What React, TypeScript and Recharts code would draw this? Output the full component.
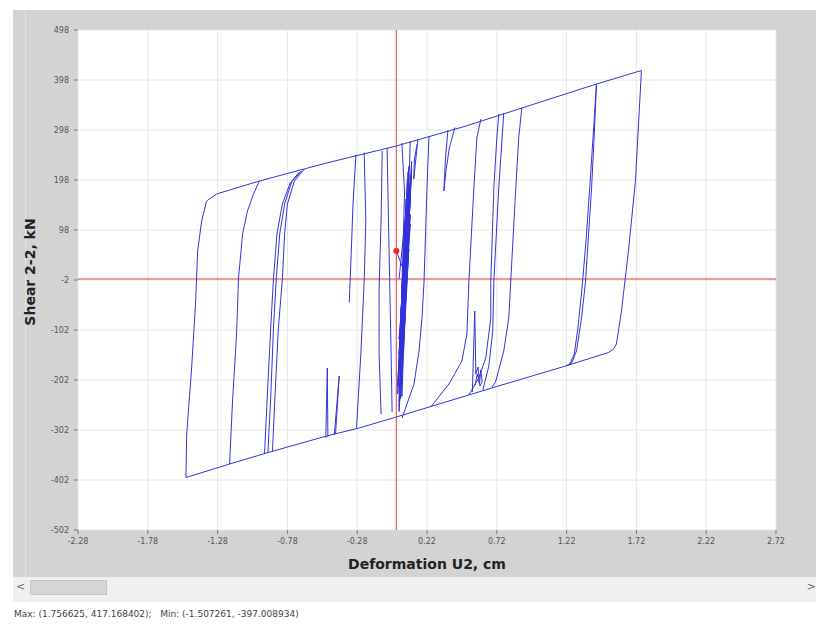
import React from 'react';
import { LineChart, Line, XAxis, YAxis, CartesianGrid, ReferenceLine, ReferenceDot } from 'recharts';

// each point: [deformation U2 (cm), shear 2-2 (kN)]
type Pt = [number, number];

const deformationTicks = [-2.28, -1.78, -1.28, -0.78, -0.28, 0.22, 0.72, 1.22, 1.72, 2.22, 2.72];
const shearTicks = [-502, -402, -302, -202, -102, -2, 98, 198, 298, 398, 498];

const outerLoop: Pt[] = [
  [-1.507, -397], [-1.501, -310], [-1.466, -178], [-1.437, -44], [-1.423, 56], [-1.394, 116],
  [-1.359, 156], [-1.287, 170], [-1.194, 178], [-0.98, 196], [-0.5, 232], [0, 266], [0.5, 306],
  [0.9, 342], [1.434, 390], [1.756, 417], [1.713, 196], [1.663, 56], [1.613, -64], [1.577, -130],
  [1.555, -141], [1.52, -147], [1.213, -174], [0.684, -218], [0, -276], [-0.266, -298],
  [-0.5, -314], [-0.93, -348], [-1.194, -370], [-1.507, -397],
];

const leftBranch: Pt[] = [
  [-1.194, -370], [-1.173, -244], [-1.144, -110], [-1.13, 2], [-1.101, 90], [-1.066, 136],
  [-1.02, 172], [-0.98, 196],
];

const midLeftA: Pt[] = [
  [-0.944, -350], [-0.925, -240], [-0.9, -100], [-0.88, 0], [-0.855, 90], [-0.816, 150],
  [-0.76, 192], [-0.694, 214],
];
const midLeftB: Pt[] = [
  [-0.887, -345], [-0.87, -240], [-0.845, -100], [-0.816, 0], [-0.8, 90], [-0.78, 150],
  [-0.73, 196], [-0.659, 220],
];
const midLeftC: Pt[] = [
  [-0.92, -348], [-0.9, -240], [-0.88, -100], [-0.86, 0], [-0.835, 90], [-0.8, 150],
  [-0.75, 194], [-0.68, 216],
];

const spikeLow1: Pt[] = [[-0.505, -318], [-0.494, -178], [-0.49, -316]];
const spikeLow2: Pt[] = [[-0.444, -312], [-0.409, -194], [-0.435, -310]];

const nearZeroD: Pt[] = [[-0.289, 249], [-0.31, 150], [-0.323, 50], [-0.337, -47]];
const nearZeroE: Pt[] = [
  [-0.23, 253], [-0.218, 116], [-0.23, -4], [-0.254, -150], [-0.285, -298],
];
const nearZeroF1: Pt[] = [
  [-0.101, 256], [-0.109, 116], [-0.123, -18], [-0.123, -150], [-0.109, -270],
];
const nearZeroF2: Pt[] = [
  [-0.066, 262], [-0.051, 50], [-0.037, -150], [-0.03, -266],
];

const cluster: Pt[] = [
  [0.02, 0], [0.07, 140], [0.03, -90], [0.08, 170], [0.02, -150], [0.09, 210], [0.04, -60],
  [0.1, 160], [0.02, -190], [0.07, 100], [0.01, -230], [0.09, 190], [0.05, -130], [0.11, 220],
  [0.03, -210], [0.1, 130], [0.02, -255], [0.08, 70], [0.04, -170], [0.11, 235], [0.06, -90],
  [0.1, 180], [0.03, -240], [0.07, 40], [0.02, -120], [0.09, 150], [0.05, -40], [0.1, 110],
  [0.03, -200], [0.08, 200], [0.03, -100], [0.06, 90], [0.01, -215], [0.07, 140], [0.04, -20],
  [0.09, 225], [0.05, -150], [0.09, 60], [0.02, -265], [0.05, 20], [0.0, 56],
];
const clusterLate: Pt[] = [
  [0.06, 180], [0.035, -70], [0.08, 120], [0.025, -175], [0.07, 160], [0.04, -235],
  [0.1, 205], [0.06, -30], [0.09, 185], [0.035, -155], [0.075, 75], [0.03, -205],
  [0.06, 30], [0.085, 215], [0.04, -110], [0.08, 165], [0.02, -245], [0.06, 100],
];

const topH1: Pt[] = [[0.04, 272], [0.05, 220], [0.06, 170]];
const topH2: Pt[] = [[0.1, 276], [0.095, 230], [0.085, 180]];
const topH3: Pt[] = [[0.155, 280], [0.14, 240], [0.125, 200], [0.13, 240], [0.15, 270]];

const branchG: Pt[] = [
  [0.041, -278], [0.127, -210], [0.163, -144], [0.184, -78], [0.199, -4], [0.22, 182], [0.234, 286],
];
const spikeTop: Pt[] = [[0.42, 303], [0.38, 262], [0.355, 215], [0.341, 176], [0.352, 240], [0.37, 298]];

const branchL1: Pt[] = [
  [0.606, 320], [0.577, 282], [0.556, 182], [0.52, -4], [0.506, -110], [0.47, -164],
  [0.377, -210], [0.25, -255],
];
const branchL2: Pt[] = [
  [0.734, 330], [0.72, 282], [0.699, 182], [0.677, -4], [0.677, -78], [0.641, -158],
  [0.591, -198], [0.52, -232],
];
const branchL2b: Pt[] = [
  [0.77, 332], [0.734, 182], [0.699, -4], [0.691, -104], [0.663, -174], [0.62, -222],
];
const branchL3: Pt[] = [
  [0.899, 342], [0.877, 282], [0.856, 182], [0.82, -4], [0.806, -78], [0.77, -144],
  [0.713, -204], [0.684, -218],
];
const squiggle: Pt[] = [
  [0.545, -226], [0.562, -64], [0.57, -190], [0.585, -176], [0.596, -210], [0.605, -182],
  [0.615, -205], [0.6, -214], [0.58, -190], [0.565, -212],
];

const branchK1: Pt[] = [
  [1.434, 390], [1.42, 300], [1.399, 182], [1.375, 80], [1.356, -4], [1.327, -78],
  [1.291, -144], [1.256, -168], [1.213, -174],
];
const branchK2: Pt[] = [
  [1.24, -172], [1.275, -150], [1.3, -100], [1.33, -20], [1.36, 80], [1.39, 200],
  [1.42, 330], [1.434, 390],
];

const curves: Pt[][] = [
  outerLoop, leftBranch, midLeftA, midLeftB, midLeftC, spikeLow1, spikeLow2,
  nearZeroD, nearZeroE, nearZeroF1, nearZeroF2, cluster, clusterLate, topH1, topH2, topH3,
  branchG, spikeTop, branchL1, branchL2, branchL2b, branchL3, squiggle, branchK1, branchK2,
];

const startPoint: Pt = [0, 56];

const toRows = (pts: Pt[]) => pts.map(([u, v]) => ({ u, v }));

const tickStyle = { fontSize: 8, fill: '#555', fontFamily: 'DejaVu Sans' };

export default function App() {
  return (
    <div
      style={{
        position: 'absolute', left: 0, top: 0, width: 816, height: 624,
        background: '#fff', overflow: 'hidden', fontFamily: 'DejaVu Sans, sans-serif',
      }}
    >
      <div style={{ position: 'absolute', left: 13, top: 10, width: 803, height: 567, background: '#d3d3d3' }}>
        <div style={{ position: 'absolute', left: 12, top: 0, width: 1, height: 567, background: '#e2e2e2' }} />
        <LineChart width={803} height={567} margin={{ top: 20, right: 40, bottom: 17, left: 15 }}>
          <CartesianGrid stroke="#e6e6e6" fill="#ffffff" />
          <XAxis
            type="number"
            dataKey="u"
            domain={[-2.28, 2.72]}
            ticks={deformationTicks}
            allowDataOverflow
            tickFormatter={(t: number) => t.toFixed(2)}
            axisLine={false}
            tickLine={{ stroke: '#777' }}
            tickSize={4}
            tickMargin={4}
            tick={tickStyle}
            height={30}
            interval={0}
          />
          <YAxis
            type="number"
            domain={[-502, 498]}
            ticks={shearTicks}
            allowDataOverflow
            axisLine={false}
            tickLine={{ stroke: '#777' }}
            tickSize={4}
            tickMargin={5}
            tick={tickStyle}
            width={50}
            interval={0}
          />
          <ReferenceLine x={0} stroke="#e23a3a" strokeWidth={1} />
          <ReferenceLine y={0} stroke="#e23a3a" strokeWidth={1} />
          {curves.map((pts, i) => (
            <Line
              key={i}
              data={toRows(pts)}
              dataKey="v"
              type="linear"
              stroke="#3333dc"
              strokeWidth={1}
              dot={false}
              activeDot={false}
              isAnimationActive={false}
            />
          ))}
          <ReferenceDot x={startPoint[0]} y={startPoint[1]} r={3} fill="#ff2020" stroke="none" />
        </LineChart>
        <div
          style={{
            position: 'absolute', left: 414, top: 546, transform: 'translateX(-50%)',
            fontSize: 14, fontWeight: 'bold', color: '#222', whiteSpace: 'nowrap',
          }}
        >
          Deformation U2, cm
        </div>
        <div
          style={{
            position: 'absolute', left: 17, top: 262, transform: 'translate(-50%, -50%) rotate(-90deg)',
            fontSize: 14, fontWeight: 'bold', color: '#222', whiteSpace: 'nowrap',
          }}
        >
          Shear 2-2, kN
        </div>
      </div>
      <div style={{ position: 'absolute', left: 13, top: 577, width: 803, height: 25, background: '#f0f0f0' }}>
        <div style={{ position: 'absolute', left: 3, top: 3, fontSize: 11, color: '#666' }}>&lt;</div>
        <div
          style={{
            position: 'absolute', left: 17, top: 3, width: 77, height: 15,
            background: '#d6d6d6', border: '1px solid #c8c8c8', boxSizing: 'border-box',
          }}
        />
        <div style={{ position: 'absolute', right: 0, top: 3, fontSize: 11, color: '#666' }}>&gt;</div>
      </div>
      <div style={{ position: 'absolute', left: 14, top: 609, fontSize: 9, color: '#444', whiteSpace: 'pre' }}>
        {'Max: (1.756625, 417.168402);   Min: (-1.507261, -397.008934)'}
      </div>
    </div>
  );
}
